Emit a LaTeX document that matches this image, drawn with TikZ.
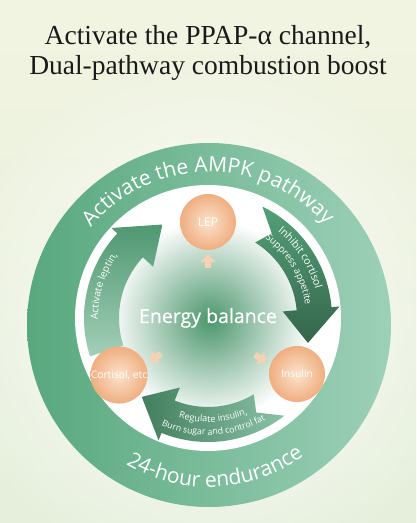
\documentclass[tikz,border=0pt]{standalone}
\usepackage{fontspec}
\setmainfont{Liberation Serif}
\newfontfamily\osans{Open Sans}
\newfontfamily\osansmid[FakeBold=0.5]{Open Sans}
\usetikzlibrary{decorations.text,fadings}
\tikzfading[name=softglow, inner color=transparent!0, outer color=transparent!100]
\definecolor{ringL}{HTML}{58A87E}
\definecolor{ringR}{HTML}{9DD0B8}
\definecolor{peach}{HTML}{F6D2B3}
\definecolor{ballin}{HTML}{FCE3CC}
\definecolor{ballout}{HTML}{EFAE80}
\definecolor{bgtop}{HTML}{F1F4E1}
\definecolor{bgbot}{HTML}{E5EFDB}
\definecolor{glowgreen}{HTML}{4C976D}
\definecolor{titlecol}{HTML}{1A1A1A}
\begin{document}
\begin{tikzpicture}[x=1pt,y=1pt,
  ball/.style={circle, minimum size=56pt, inner sep=0pt, shade, inner color=ballin, outer color=ballout, text=white, font=\osans\fontsize{10.3}{12}\selectfont},
  smallarrow/.pic={\fill[peach] (-6,-3) -- (0,-3) -- (0,-7.5) -- (7.5,0) -- (0,7.5) -- (0,3) -- (-6,3) -- cycle;},
  ringtext/.style={decorate, decoration={text along path, text align=center, text={|\osans\fontsize{21}{25}\selectfont\color{white}|#1}}},
  arrowtext/.style 2 args={decorate, decoration={text along path, text align=center, text={|\osans\fontsize{#1}{12}\selectfont\color{white}|#2}}}
]
\useasboundingbox (0,0) rectangle (416,523);
\clip (0,0) rectangle (416,523);
% background
\shade[top color=bgtop, bottom color=bgbot] (0,0) rectangle (416,523);
\fill[white, opacity=0.95, path fading=softglow] (209,200) circle (270);
% ring
\shade[left color=ringL, right color=ringR] (209,198) circle (182);
\fill[white] (208,205) circle (133);
% central glow
\fill[glowgreen, path fading=softglow] (210,203) circle (100);
% curved arrows
\begin{scope}[shift={(208,205)}]
  \shade[top color=ringL!90!black, bottom color=ringL!55!white]
    (198:124) arc[start angle=198, end angle=137, radius=124] -- (137:132) -- (116:104) -- (137:75) -- (137:89)
    arc[start angle=137, end angle=198, radius=89] -- cycle;
  \shade[top color=ringL!95!black, bottom color=ringL!60!black]
    (64:124) arc[start angle=64, end angle=5, radius=124] -- (5:132) -- (-14:103) -- (5:75) -- (5:89)
    arc[start angle=5, end angle=58, radius=89] -- (53:106) -- cycle;
  \shade[left color=ringL!75!black, right color=ringL!70!white]
    (-52:124) arc[start angle=-52, end angle=-112, radius=124] -- (-112:132) -- (-130:103) -- (-112:75) -- (-112:89)
    arc[start angle=-112, end angle=-59, radius=89] -- (-63:106) -- cycle;
  % arrow texts
  \path[arrowtext={10}{Activate leptin,}] (195:110) arc[start angle=195, end angle=131, radius=110];
  \path[arrowtext={10.5}{Inhibit cortisol}] (63:111) arc[start angle=63, end angle=3, radius=111];
  \path[arrowtext={9.5}{Suppress appetite}] (61:98) arc[start angle=61, end angle=1, radius=98];
  \path[arrowtext={9.2}{Regulate insulin,}] (-147:104) arc[start angle=-147, end angle=-27, radius=104];
  \path[arrowtext={8.8}{Burn sugar and control fat}] (-147:117) arc[start angle=-147, end angle=-27, radius=117];
\end{scope}
% ring texts
\path[shift={(209,198)}, ringtext={Activate the AMPK pathway}] (171:153) arc[start angle=171, end angle=10, radius=153];
\path[shift={(209,198)}, ringtext={24-hour endurance}] (-162:162) arc[start angle=-162, end angle=-13, radius=162];
% nodes
\node[ball, font=\osans\fontsize{12}{13}\selectfont] (lep) at (208,301) {LEP};
\node[ball] (cort) at (119,148) {Cortisol, etc};
\node[ball] (ins) at (297,149) {Insulin};
\node[font=\osansmid\fontsize{19.5}{22}\selectfont, text=white, anchor=base] (eb) at (208,200) {Energy balance};
% small arrows
\pic[rotate=90] at (208,261) {smallarrow};
\pic[rotate=212] at (156,166) {smallarrow};
\pic[rotate=328] at (260,165) {smallarrow};
% title
\node[font=\fontsize{27.5}{32}\selectfont, text=titlecol, anchor=base] (title1) at (208,478) {Activate the PPAP-α channel,};
\node[font=\fontsize{27.5}{32}\selectfont, text=titlecol, anchor=base] (title2) at (208,448) {Dual-pathway combustion boost};
\end{tikzpicture}
\end{document}
